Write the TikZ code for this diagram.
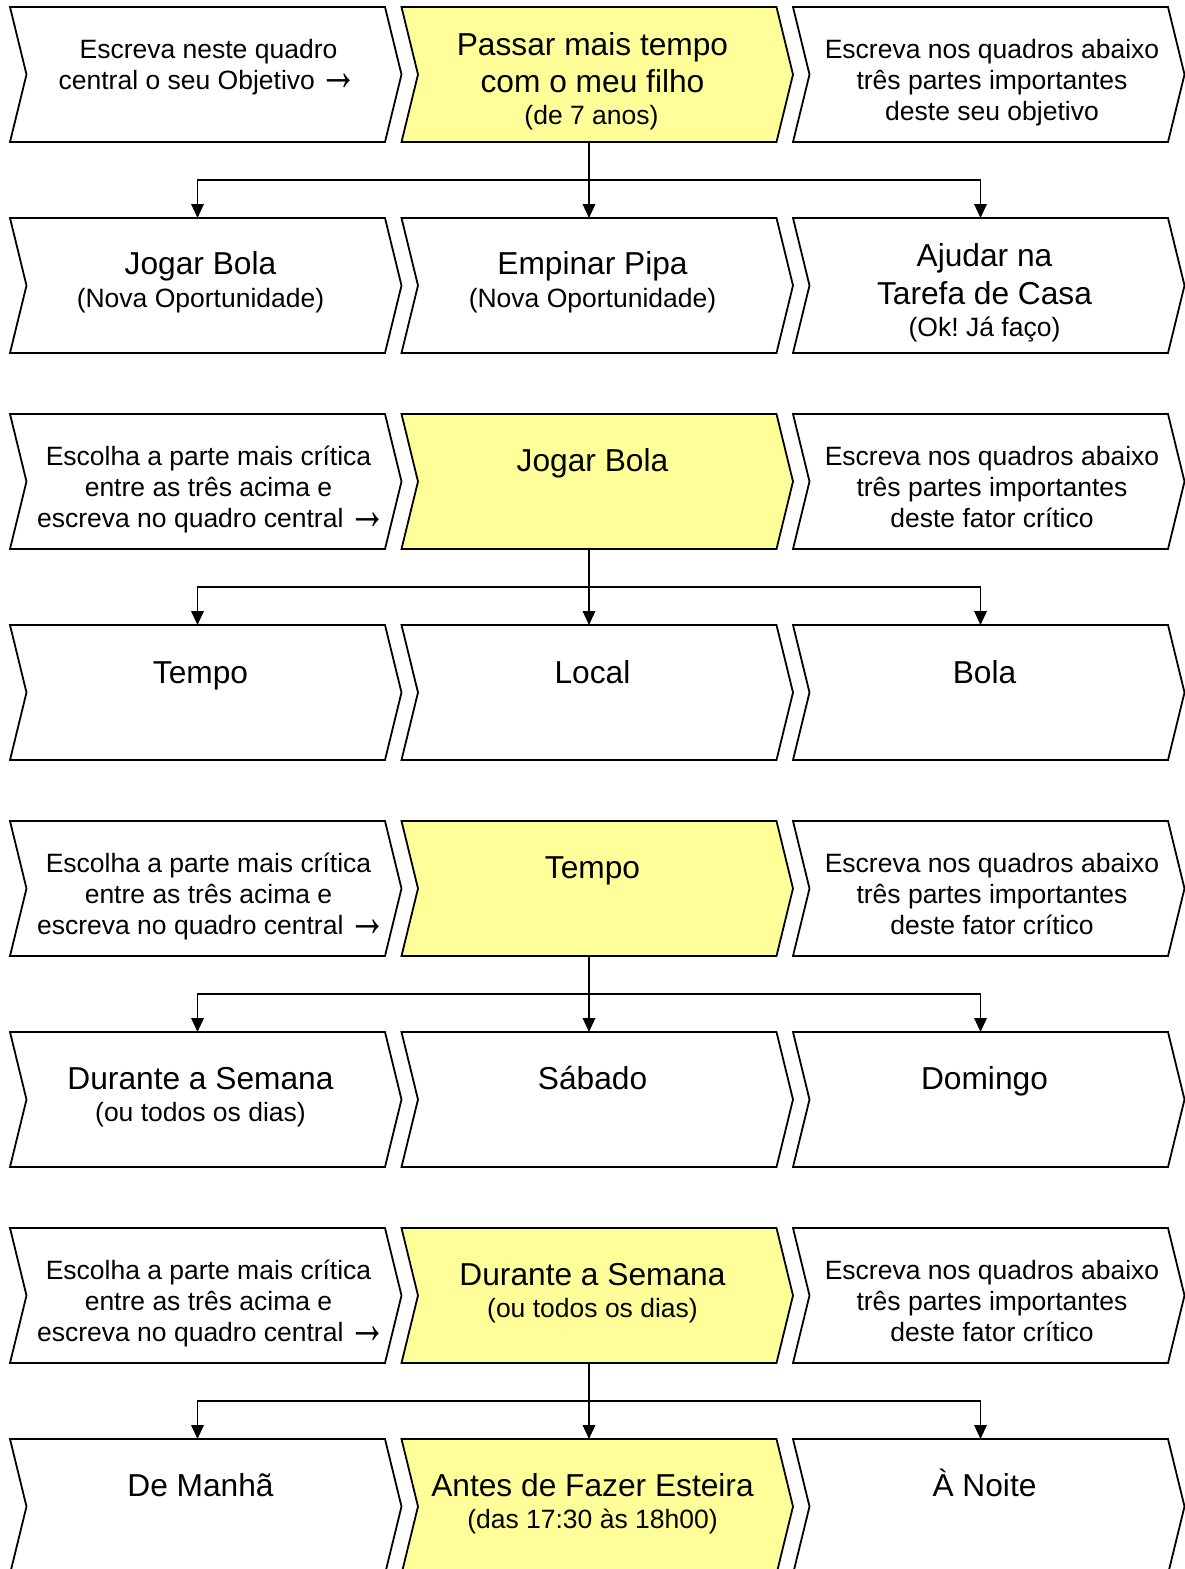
\documentclass[tikz,border=0pt]{standalone}
\usepackage{graphicx}
\usepackage{fontspec}
\setmainfont{Liberation Sans}
\newcommand\rarr{\hspace{5pt}\smash{\raisebox{-1.5pt}{\scalebox{1.45}[2.2]{→}}}}
\frenchspacing
\usetikzlibrary{arrows.meta}
\definecolor{ylw}{HTML}{FFFF99}
\tikzset{
  boxarea/.style={minimum width=375pt, minimum height=135pt, inner sep=0pt, outer sep=0pt},
  chev/.style={draw=black, line width=1.8pt},
  big/.style={font=\fontsize{31.7}{37}\selectfont\frenchspacing, inner sep=0pt, anchor=base},
  sml/.style={font=\fontsize{26.5}{31}\selectfont\frenchspacing, inner sep=0pt, anchor=base},
  conn/.style={line width=1.8pt},
  arr/.style={conn, -{Triangle[length=14pt,width=12.5pt]}},
}
\newcommand\chevbox[4]{%
  \node[boxarea] (#1) at (#2+187.5, #3+67.5) {};
  \filldraw[chev, fill=#4] (#1.north west) -- (#1.north east) -- ([xshift=16.5pt]#1.east)
    -- (#1.south east) -- (#1.south west) -- ([xshift=16.5pt]#1.west) -- cycle;
}
\newcommand\fanout[3]{% upper middle, lower row prefix, junction name
  \coordinate (#3) at ([yshift=-38pt]#1m.south);
  \draw[arr] (#1m.south) -- (#2m.north);
  \draw[arr] (#3) -| (#2l.north);
  \draw[arr] (#3) -| (#2r.north);
}
\begin{document}
\begin{tikzpicture}[x=1pt, y=-1pt]
\useasboundingbox[fill=white] (0,0) rectangle (1184,1569);
% boxes
\chevbox{r1l}{10}{7}{white}
\chevbox{r1m}{401.5}{7}{ylw}
\chevbox{r1r}{793}{7}{white}
\chevbox{r2l}{10}{218}{white}
\chevbox{r2m}{401.5}{218}{white}
\chevbox{r2r}{793}{218}{white}
\chevbox{r3l}{10}{414}{white}
\chevbox{r3m}{401.5}{414}{ylw}
\chevbox{r3r}{793}{414}{white}
\chevbox{r4l}{10}{625}{white}
\chevbox{r4m}{401.5}{625}{white}
\chevbox{r4r}{793}{625}{white}
\chevbox{r5l}{10}{821}{white}
\chevbox{r5m}{401.5}{821}{ylw}
\chevbox{r5r}{793}{821}{white}
\chevbox{r6l}{10}{1032}{white}
\chevbox{r6m}{401.5}{1032}{white}
\chevbox{r6r}{793}{1032}{white}
\chevbox{r7l}{10}{1228}{white}
\chevbox{r7m}{401.5}{1228}{ylw}
\chevbox{r7r}{793}{1228}{white}
\chevbox{r8l}{10}{1439}{white}
\chevbox{r8m}{401.5}{1439}{ylw}
\chevbox{r8r}{793}{1439}{white}
% connectors
\fanout{r1}{r2}{j1}
\fanout{r3}{r4}{j2}
\fanout{r5}{r6}{j3}
\fanout{r7}{r8}{j4}
% row 1
\node[sml] (t1la) at (208.5,58) {Escreva neste quadro};
\node[sml] (t1lb) at (208.5,89) {central o seu Objetivo\rarr};
\node[big] (t1ma) at (592.5,55.5) {Passar mais tempo};
\node[big] (t1mb) at (592.5,92.5) {com o meu filho};
\node[sml] (t1mc) at (591.5,124) {(de 7 anos)};
\node[sml] (t1ra) at (992,58) {Escreva nos quadros abaixo};
\node[sml] (t1rb) at (992,89) {três partes importantes};
\node[sml] (t1rc) at (992,120) {deste seu objetivo};
% row 2
\node[big] (t2la) at (200.5,274.8) {Jogar Bola};
\node[sml] (t2lb) at (200.5,307.3) {(Nova Oportunidade)};
\node[big] (t2ma) at (592.5,274.8) {Empinar Pipa};
\node[sml] (t2mb) at (592.5,307.3) {(Nova Oportunidade)};
\node[big] (t2ra) at (984.5,266.5) {Ajudar na};
\node[big] (t2rb) at (984.5,304.2) {Tarefa de Casa};
\node[sml] (t2rc) at (984.5,336.3) {(Ok! Já faço)};
% row 3
\node[sml] (t3la) at (208.5,465.5) {Escolha a parte mais crítica};
\node[sml] (t3lb) at (208.5,496.5) {entre as três acima e};
\node[sml] (t3lc) at (212,527.5) {escreva no quadro central\rarr};
\node[big] (t3ma) at (592.5,471.5) {Jogar Bola};
\node[sml] (t3ra) at (992,465.5) {Escreva nos quadros abaixo};
\node[sml] (t3rb) at (992,496.5) {três partes importantes};
\node[sml] (t3rc) at (992,527.5) {deste fator crítico};
% row 4
\node[big] (t4l) at (200.5,683.5) {Tempo};
\node[big] (t4m) at (592.5,683.5) {Local};
\node[big] (t4r) at (984.5,683.5) {Bola};
% row 5
\node[sml] (t5la) at (208.5,872.5) {Escolha a parte mais crítica};
\node[sml] (t5lb) at (208.5,903.5) {entre as três acima e};
\node[sml] (t5lc) at (212,934.5) {escreva no quadro central\rarr};
\node[big] (t5ma) at (592.5,878.5) {Tempo};
\node[sml] (t5ra) at (992,872.5) {Escreva nos quadros abaixo};
\node[sml] (t5rb) at (992,903.5) {três partes importantes};
\node[sml] (t5rc) at (992,934.5) {deste fator crítico};
% row 6
\node[big] (t6la) at (200.5,1089.5) {Durante a Semana};
\node[sml] (t6lb) at (200.5,1121.5) {(ou todos os dias)};
\node[big] (t6m) at (592.5,1089.5) {Sábado};
\node[big] (t6r) at (984.5,1089.5) {Domingo};
% row 7
\node[sml] (t7la) at (208.5,1279.5) {Escolha a parte mais crítica};
\node[sml] (t7lb) at (208.5,1310.5) {entre as três acima e};
\node[sml] (t7lc) at (212,1341.5) {escreva no quadro central\rarr};
\node[big] (t7ma) at (592.5,1285.5) {Durante a Semana};
\node[sml] (t7mb) at (592.5,1317.5) {(ou todos os dias)};
\node[sml] (t7ra) at (992,1279.5) {Escreva nos quadros abaixo};
\node[sml] (t7rb) at (992,1310.5) {três partes importantes};
\node[sml] (t7rc) at (992,1341.5) {deste fator crítico};
% row 8
\node[big] (t8l) at (200.5,1496.5) {De Manhã};
\node[big] (t8ma) at (592.5,1496.5) {Antes de Fazer Esteira};
\node[sml] (t8mb) at (592.5,1528.5) {(das 17:30 às 18h00)};
\node[big] (t8r) at (984.5,1496.5) {À Noite};
\end{tikzpicture}
\end{document}
